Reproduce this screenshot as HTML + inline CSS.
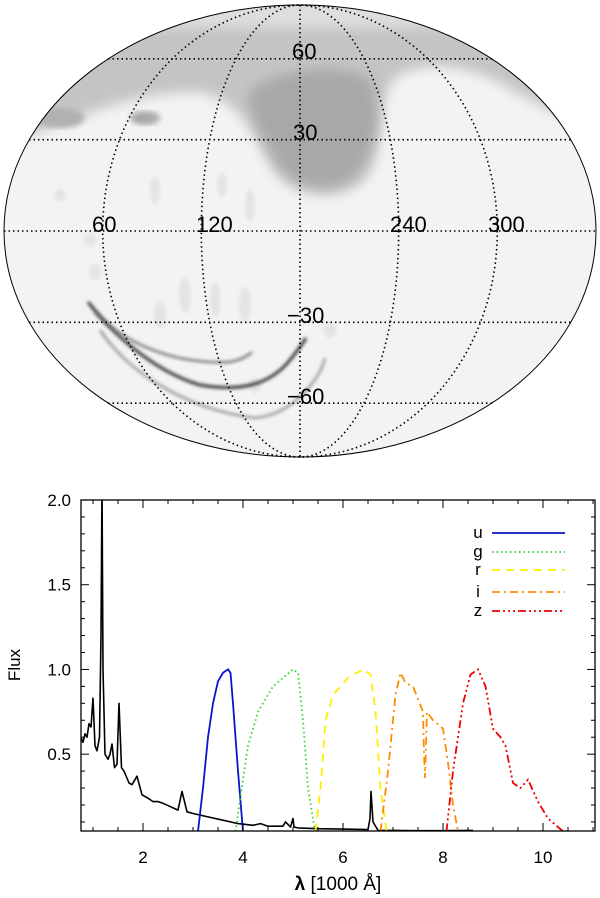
<!DOCTYPE html>
<html><head><meta charset="utf-8"><style>
html,body{margin:0;padding:0;background:#fff;}
svg{display:block;font-family:"Liberation Sans",sans-serif;}
</style></head><body>
<svg id="fig" width="600" height="898" viewBox="0 0 600 898">
<defs>
<clipPath id="ell"><ellipse cx="300" cy="231" rx="296" ry="226"/></clipPath>
<clipPath id="plotclip"><rect x="81" y="500" width="514" height="331"/></clipPath>
<filter id="b6" x="-20%" y="-20%" width="140%" height="140%"><feGaussianBlur stdDeviation="6"/></filter>
<filter id="b2"><feGaussianBlur stdDeviation="1.6"/></filter>
<filter id="b3"><feGaussianBlur stdDeviation="3"/></filter>
</defs>
<g>
<g clip-path="url(#ell)">
<rect x="0" y="0" width="600" height="460" fill="#f3f3f3"/>
<path filter="url(#b6)" fill="#c4c4c4" d="M10,140 C50,132 110,95 190,92 C240,92 255,140 272,168 C290,198 340,205 366,178 C388,150 372,100 398,76 C430,58 475,68 505,86 C545,110 575,118 600,140 L600,-10 L0,-10 Z"/>
<path filter="url(#b6)" fill="#dedede" d="M0,0 L600,0 L600,25 C500,22 420,30 300,28 C200,26 100,30 0,30 Z"/>
<path filter="url(#b6)" fill="#a8a8a8" d="M250,90 C280,70 340,60 370,80 C385,110 375,160 350,180 C320,195 290,185 275,160 C262,135 245,110 250,90 Z"/>
<ellipse cx="145" cy="118" rx="15" ry="7" fill="#a8a8a8" filter="url(#b3)"/>
<ellipse cx="60" cy="118" rx="25" ry="10" fill="#b0b0b0" filter="url(#b3)"/>
<g fill="#e4e4e4" filter="url(#b2)">
<ellipse cx="60" cy="195" rx="6" ry="6"/>
<ellipse cx="90" cy="240" rx="6" ry="6"/>
<ellipse cx="155" cy="190" rx="5" ry="14"/>
<ellipse cx="222" cy="185" rx="5" ry="12"/>
<ellipse cx="250" cy="205" rx="5" ry="16"/>
<ellipse cx="185" cy="295" rx="6" ry="18"/>
<ellipse cx="215" cy="300" rx="5" ry="18"/>
<ellipse cx="245" cy="305" rx="6" ry="18"/>
<ellipse cx="160" cy="315" rx="6" ry="14"/>
<ellipse cx="95" cy="272" rx="6" ry="8"/>
<ellipse cx="330" cy="330" rx="6" ry="8"/>
<ellipse cx="255" cy="385" rx="6" ry="8"/>
</g>
<path filter="url(#b2)" fill="none" stroke="#333" stroke-width="3" d="M88,302 C110,330 150,370 200,385 C240,392 270,385 290,360 C298,350 303,343 306,338"/>
<path filter="url(#b2)" fill="none" stroke="#777" stroke-width="2.5" d="M95,312 C120,340 170,365 230,362 C240,360 248,356 252,352"/>
<path filter="url(#b2)" fill="none" stroke="#999" stroke-width="2.5" d="M100,330 C130,375 190,410 255,418 C285,415 305,395 318,375 C322,368 324,362 325,358"/>
</g>
<g fill="none" stroke="#000" stroke-width="1.6" stroke-dasharray="1.5,3">
<ellipse cx="300" cy="231" rx="98.7" ry="226"/>
<ellipse cx="300" cy="231" rx="197.3" ry="226"/>
<line x1="300" y1="5" x2="300" y2="457"/>
<line x1="4" y1="231" x2="596" y2="231"/>
<line x1="29" y1="139.7" x2="571" y2="139.7"/>
<line x1="29" y1="322.3" x2="571" y2="322.3"/>
<line x1="108" y1="58.8" x2="492" y2="58.8"/>
<line x1="108" y1="403.2" x2="492" y2="403.2"/>
</g>
<ellipse cx="300" cy="231" rx="296" ry="226" fill="none" stroke="#000" stroke-width="1"/>
<g font-size="22" fill="#000">
<text x="92" y="232">60</text>
<text x="196" y="232">120</text>
<text x="390" y="232">240</text>
<text x="488" y="232">300</text>
<text x="292" y="59">60</text>
<text x="293" y="140">30</text>
<text x="287" y="323">−30</text>
<text x="287" y="404">−60</text>
</g>
</g>
<g id="spec"></g>
</svg>
<script>
const specX=[0.76,0.8,0.84,0.88,0.92,0.96,1.0,1.04,1.08,1.13,1.16,1.18,1.2,1.24,1.3,1.34,1.38,1.43,1.48,1.52,1.57,1.62,1.72,1.78,1.88,1.98,2.1,2.2,2.3,2.4,2.55,2.7,2.78,2.88,3.0,3.3,3.6,3.9,4.2,4.35,4.5,4.8,4.85,4.95,5.0,5.02,5.1,5.5,6.0,6.5,6.54,6.56,6.6,6.7,7.0,7.5,8.0,8.6];
const specY=[0.6,0.57,0.62,0.6,0.68,0.66,0.83,0.55,0.52,0.6,1.2,2.1,1.0,0.5,0.47,0.5,0.56,0.42,0.44,0.8,0.42,0.4,0.33,0.32,0.37,0.26,0.24,0.22,0.22,0.21,0.19,0.17,0.28,0.16,0.15,0.13,0.11,0.09,0.08,0.09,0.075,0.075,0.1,0.07,0.12,0.07,0.065,0.06,0.058,0.055,0.12,0.28,0.1,0.05,0.05,0.048,0.048,0.05];
const uX=[3.1,3.2,3.3,3.4,3.5,3.6,3.7,3.75,3.8,3.9,4.0];
const uY=[0.045,0.3,0.6,0.8,0.93,0.98,1.0,0.98,0.8,0.4,0.045];
const gX=[3.85,3.95,4.1,4.3,4.6,5.0,5.1,5.2,5.3,5.44];
const gY=[0.045,0.25,0.55,0.75,0.9,1.0,0.98,0.7,0.3,0.045];
const rX=[5.45,5.55,5.65,5.8,6.1,6.4,6.55,6.65,6.75,6.87];
const rY=[0.045,0.3,0.7,0.85,0.95,1.0,0.97,0.75,0.3,0.045];
const iX=[6.75,6.9,7.05,7.15,7.25,7.4,7.6,7.62,7.64,7.68,7.8,8.0,8.1,8.2,8.3];
const iY=[0.045,0.4,0.85,0.98,0.92,0.9,0.75,0.5,0.36,0.75,0.7,0.65,0.45,0.2,0.045];
const zX=[8.07,8.2,8.4,8.55,8.7,8.85,9.0,9.15,9.25,9.4,9.55,9.7,9.9,10.1,10.4];
const zY=[0.045,0.4,0.8,0.97,1.0,0.9,0.65,0.6,0.55,0.33,0.3,0.35,0.22,0.12,0.045];
const xTicks=[2,4,6,8,10];
const xTickLabels=["2","4","6","8","10"];
const yTicks=[0.5,1.0,1.5,2.0];
const yTickLabels=["0.5","1.0","1.5","2.0"];
const bandNames=["u","g","r","i","z"];
const X0=81,X1=595,Y0=500,Y1=831,XMIN=0.76,XMAX=11.04,YMIN=0.0465,YMAX=2.0;
function sx(v){return X0+(v-XMIN)/(XMAX-XMIN)*(X1-X0);}
function sy(v){return Y1-(v-YMIN)/(YMAX-YMIN)*(Y1-Y0);}
const NS="http://www.w3.org/2000/svg";
const g=document.getElementById('spec');
function mk(t,a,p){const e=document.createElementNS(NS,t);for(const k in a)e.setAttribute(k,a[k]);(p||g).appendChild(e);return e;}
function pts(xs,ys){return xs.map((x,i)=>sx(x).toFixed(1)+','+sy(ys[i]).toFixed(1)).join(' ');}
const styles=[
 {c:"#0a14c8",d:""},{c:"#22dd22",d:"1.5,3"},{c:"#ffee00",d:"8,6"},{c:"#ff8c00",d:"8,4,2,4"},{c:"#ee0000",d:"8,3,2,3,2,3,2,3"}];
const bandX=[uX,gX,rX,iX,zX], bandY=[uY,gY,rY,iY,zY];
const clipG=mk('g',{'clip-path':'url(#plotclip)'});


const sp=mk('polyline',{points:pts(specX,specY),fill:'none',stroke:'#000','stroke-width':1.6,'stroke-linejoin':'round'},clipG);


for(let k=0;k<5;k++){
 const l=mk('polyline',{points:pts(bandX[k],bandY[k]),fill:'none',stroke:styles[k].c,'stroke-width':1.8,'stroke-dasharray':styles[k].d},clipG);
 
 
}
const fr=mk('rect',{x:X0,y:Y0,width:X1-X0,height:Y1-Y0,fill:'none',stroke:'#000','stroke-width':1.3});


for(let v=1.0;v<=11.0;v+=0.5){
 const x=sx(v);const major=Math.abs(v-Math.round(v/2)*2)<1e-6;const L=major?8:4;
 const t1=mk('line',{x1:x,x2:x,y1:Y1,y2:Y1-L,stroke:'#000','stroke-width':1});
 
 
 const t2=mk('line',{x1:x,x2:x,y1:Y0,y2:Y0+L,stroke:'#000','stroke-width':1});
 
 
}
for(let i=1;i<=20;i++){
 const v=i*0.1;if(v<YMIN)continue;const y=sy(v);const major=i%5===0;const L=major?8:4;
 const t1=mk('line',{x1:X0,x2:X0+L,y1:y,y2:y,stroke:'#000','stroke-width':1});
 
 
 const t2=mk('line',{x1:X1,x2:X1-L,y1:y,y2:y,stroke:'#000','stroke-width':1});
 
 
}
xTicks.forEach((v,i)=>{const t=mk('text',{x:sx(v),y:863,'text-anchor':'middle','font-size':17});t.textContent=xTickLabels[i];
 
 });
yTicks.forEach((v,i)=>{const t=mk('text',{x:71,y:sy(v)+6,'text-anchor':'end','font-size':17});t.textContent=yTickLabels[i];
 
 });
const yt=mk('text',{x:20,y:665,'text-anchor':'middle','font-size':17,transform:'rotate(-90 20 665)'});yt.textContent='Flux';


const xt=mk('text',{x:338,y:890,'text-anchor':'middle','font-size':19});
xt.innerHTML='<tspan font-weight="bold">λ</tspan> [1000 Å]';


const legY=[533,552,570,592,611];
for(let k=0;k<5;k++){
 const lg=mk('g',{});
 
 
 const t=mk('text',{x:478,y:legY[k]+5,'text-anchor':'middle','font-size':17},lg);t.textContent=bandNames[k];
 mk('line',{x1:492,x2:565,y1:legY[k],y2:legY[k],stroke:styles[k].c,'stroke-width':1.8,'stroke-dasharray':styles[k].d},lg);
}
</script>
</body></html>
